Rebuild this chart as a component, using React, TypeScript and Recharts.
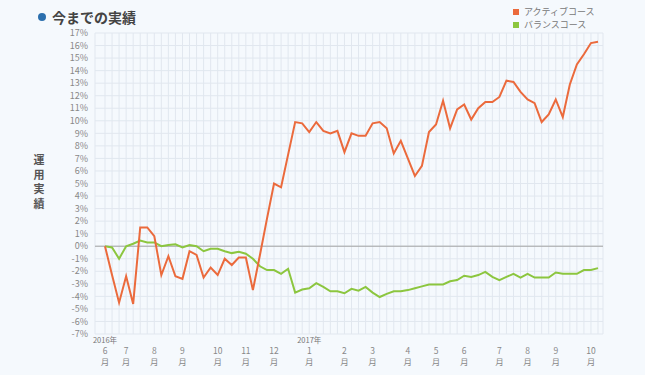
import React from 'react'
import { LineChart, Line, XAxis, YAxis, CartesianGrid, ReferenceLine } from 'recharts'

// weekly values (%), 2016/6 → 2017/10
const active = [
  0, -2.3, -4.5, -2.4, -4.6, 1.5, 1.5, 0.8, -2.3, -0.8,
  -2.4, -2.6, -0.4, -0.7, -2.5, -1.7, -2.3, -1.0, -1.5, -0.9,
  -0.9, -3.5, -0.7, 2.2, 5.0, 4.7, 7.3, 9.9, 9.8, 9.1,
  9.9, 9.2, 9.0, 9.2, 7.5, 9.0, 8.8, 8.8, 9.8, 9.9,
  9.4, 7.4, 8.4, 7.0, 5.6, 6.4, 9.1, 9.7, 11.6, 9.4,
  10.9, 11.3, 10.1, 11.0, 11.5, 11.5, 11.9, 13.2, 13.1, 12.3,
  11.7, 11.4, 9.9, 10.5, 11.7, 10.3, 12.9, 14.5, 15.3, 16.2,
  16.3,
]
const balance = [
  0, -0.1, -1.0, 0, 0.2, 0.45, 0.3, 0.3, 0, 0.1,
  0.15, -0.1, 0.1, 0, -0.4, -0.2, -0.2, -0.4, -0.55, -0.45,
  -0.6, -1.0, -1.6, -1.9, -1.9, -2.2, -1.8, -3.7, -3.45, -3.35,
  -2.95, -3.25, -3.6, -3.6, -3.75, -3.4, -3.55, -3.25, -3.7, -4.05,
  -3.8, -3.6, -3.6, -3.5, -3.35, -3.2, -3.05, -3.05, -3.05, -2.8,
  -2.7, -2.35, -2.45, -2.3, -2.05, -2.45, -2.7, -2.45, -2.2, -2.5,
  -2.2, -2.5, -2.5, -2.5, -2.1, -2.2, -2.2, -2.2, -1.9, -1.9,
  -1.75,
]
const monthIdx = [0, 3, 7, 11, 16, 20, 24, 29, 34, 38, 43, 47, 51, 56, 60, 64, 69]
const monthLabels = ['6', '7', '8', '9', '10', '11', '12', '1', '2', '3', '4', '5', '6', '7', '8', '9', '10']
const yearIdx = [0, 29]
const yearLabels = ['2016年', '2017年']
const yTicks = [-7, -6, -5, -4, -3, -2, -1, 0, 1, 2, 3, 4, 5, 6, 7, 8, 9, 10, 11, 12, 13, 14, 15, 16, 17]

const data = active.map((v, i) => ({ i, active: v, balance: balance[i] }))
const allIdx = data.map((d) => d.i)

const FONT = "'Noto Sans CJK JP', 'Noto Sans', sans-serif"

function MonthTick(props: any) {
  const { x, y, payload } = props
  const m = monthIdx.indexOf(payload.value)
  const yr = yearIdx.indexOf(payload.value)
  if (m < 0) return <g />
  return (
    <g>
      {yr >= 0 && (
        <text x={x} y={y + 9} textAnchor="middle" fontSize={7.5} fill="#777">{yearLabels[yr]}</text>
      )}
      <text x={x} y={y + 20} textAnchor="middle" fontSize={8.5} fill="#888">{monthLabels[m]}</text>
      <text x={x} y={y + 30.5} textAnchor="middle" fontSize={8.5} fill="#888">月</text>
    </g>
  )
}

export default function App() {
  return (
    <div style={{ position: 'relative', width: 645, height: 375, background: '#f5f9fd', fontFamily: FONT }}>
      <style>{`body{margin:0}`}</style>
      <div style={{ position: 'absolute', left: 38, top: 7, display: 'flex', alignItems: 'center' }}>
        <span style={{ width: 8, height: 8, borderRadius: 4, background: '#2b6fae', display: 'inline-block', marginRight: 6 }} />
        <span style={{ fontSize: 14, fontWeight: 700, color: '#444' }}>今までの実績</span>
      </div>
      <div style={{ position: 'absolute', left: 513, top: 5, fontSize: 9, color: '#777', lineHeight: '13px' }}>
        <div><span style={{ display: 'inline-block', width: 6, height: 6, background: '#eb6a3c', marginRight: 5 }} />アクティブコース</div>
        <div><span style={{ display: 'inline-block', width: 6, height: 6, background: '#8cc63f', marginRight: 5 }} />バランスコース</div>
      </div>
      <div style={{ position: 'absolute', left: 32, top: 152, width: 14, fontSize: 11, fontWeight: 700, color: '#555', lineHeight: '14.5px', textAlign: 'center' }}>
        <div>運</div>
        <div>用</div>
        <div>実</div>
        <div>績</div>
      </div>
      <LineChart width={645} height={375} data={data} margin={{ top: 33, right: 42, bottom: 0, left: 0 }} style={{ position: 'absolute', left: 0, top: 0 }}>
        <CartesianGrid stroke="#e1e7ef" />
        <XAxis
          dataKey="i"
          type="number"
          domain={[0, 70]}
          ticks={allIdx}
          interval={0}
          padding={{ left: 10, right: 5 }}
          height={41}
          axisLine={false}
          tickLine={false}
          tickSize={0}
          tickMargin={0}
          tick={<MonthTick />}
        />
        <YAxis
          domain={[-7, 17]}
          ticks={yTicks}
          interval={0}
          width={95}
          axisLine={false}
          tickLine={false}
          tickSize={0}
          tickMargin={7}
          tickFormatter={(v) => `${v}%`}
          tick={{ fontSize: 9, fill: '#888' }}
        />
        <ReferenceLine y={0} stroke="#a5a5a5" />
        <Line type="linear" dataKey="balance" stroke="#8cc63f" strokeWidth={2} dot={false} isAnimationActive={false} />
        <Line type="linear" dataKey="active" stroke="#eb6a3c" strokeWidth={2} dot={false} isAnimationActive={false} />
      </LineChart>
    </div>
  )
}
